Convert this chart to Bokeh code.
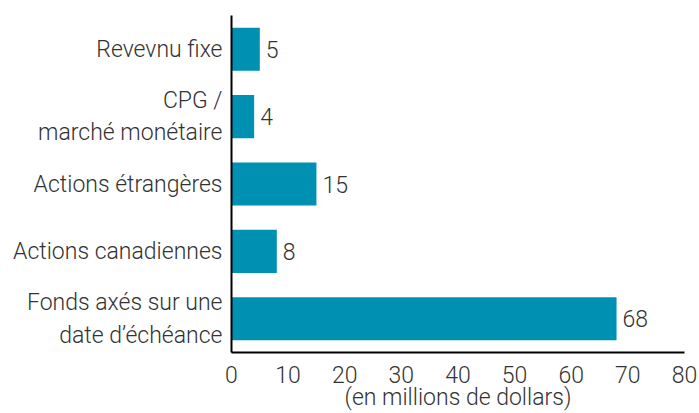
from bokeh.plotting import figure
from bokeh.models import ColumnDataSource, FactorRange, Range1d, FixedTicker
from bokeh.core.properties import value
from bokeh.embed import file_html
from bokeh.resources import INLINE

categories = ["Revevnu fixe", "CPG /\nmarché monétaire", "Actions étrangères",
              "Actions canadiennes", "Fonds axés sur une\ndate d\u2019échéance"]
values = [5, 4, 15, 8, 68]
x_ticks = [0, 10, 20, 30, 40, 50, 60, 70, 80]
x_label = "(en millions de dollars)"

FONT = "Roboto Light"
TXT = "#333333"
BAR = "#0091B2"
FS = "23px"

src = ColumnDataSource(dict(cat=categories, val=values, lab=[str(v) for v in values]))

p = figure(width=699, height=413, output_backend="svg", toolbar_location=None,
           y_range=FactorRange(factors=list(reversed(categories)), range_padding=0),
           x_range=Range1d(0, 80),
           min_border_left=231, min_border_right=15, min_border_top=15, min_border_bottom=59)
p.hbar(y="cat", right="val", height=0.64, source=src, color=BAR, line_color=None)
p.text(x="val", y="cat", text="lab", source=src, x_offset=6, text_baseline="middle",
       text_align="left", text_font=value(FONT), text_font_size=FS, text_color=TXT)

p.outline_line_color = None
p.grid.grid_line_color = None
p.background_fill_color = "white"
p.border_fill_color = "white"

p.xaxis.ticker = FixedTicker(ticks=x_ticks)
p.xaxis.axis_label = x_label
for ax in (p.xaxis[0], p.yaxis[0]):
    ax.axis_line_color = "black"
    ax.axis_line_width = 2
    ax.major_tick_line_color = None
    ax.minor_tick_line_color = None
    ax.major_label_text_font = FONT
    ax.major_label_text_font_size = FS
    ax.major_label_text_color = TXT
p.xaxis.major_label_standoff = 7
p.yaxis.major_label_standoff = 3
p.xaxis.axis_label_text_font = FONT
p.xaxis.axis_label_text_font_size = FS
p.xaxis.axis_label_text_font_style = "normal"
p.xaxis.axis_label_text_color = TXT
p.xaxis.axis_label_standoff = -2

open("out.html", "w").write(file_html(p, INLINE))
